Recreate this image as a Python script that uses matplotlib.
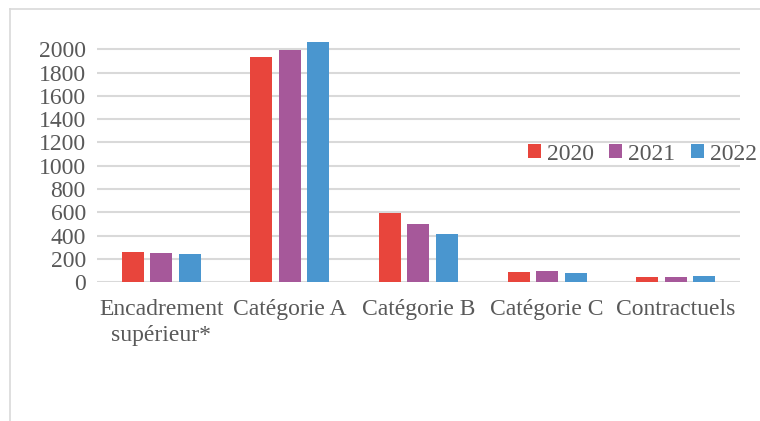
import numpy as np
import matplotlib.pyplot as plt
from matplotlib.lines import Line2D

categories = ["Encadrement\nsupérieur*", "Catégorie A", "Catégorie B", "Catégorie C", "Contractuels"]
years = ["2020", "2021", "2022"]
v2020 = [257, 1931, 595, 88, 43]
v2021 = [251, 1991, 500, 94, 48]
v2022 = [245, 2060, 414, 80, 54]
yticks = [0, 200, 400, 600, 800, 1000, 1200, 1400, 1600, 1800, 2000]

colors = ["#E8453C", "#A6589A", "#4A96CF"]
grey_txt = "#595959"
grid_col = "#D9D9D9"

plt.rcParams['font.family'] = ['Liberation Serif', 'DejaVu Serif']

fig = plt.figure(figsize=(7.6, 4.21), dpi=100)
ax = fig.add_axes([0.1276, 0.3295, 0.9737 - 0.1276, 0.9107 - 0.3295])

x = np.arange(len(categories))
w = 0.171
step = 0.222
for i, (vals, yr) in enumerate(zip([v2020, v2021, v2022], years)):
    ax.bar(x + (i - 1) * step, vals, width=w, color=colors[i], label=yr, zorder=3)

ax.set_xlim(-0.5, len(categories) - 0.5)
ax.set_ylim(0, 2100)
ax.set_yticks(yticks)
ax.set_xticks(x)
ax.set_xticklabels(categories, linespacing=1.3)
ax.tick_params(axis="both", length=0, labelsize=17, labelcolor=grey_txt)
ax.tick_params(axis="x", pad=12)
ax.tick_params(axis="y", pad=8)
ax.yaxis.grid(True, color=grid_col, linewidth=1.5, zorder=0)
for s in ax.spines.values():
    s.set_visible(False)

fig.legend(loc="center left", bbox_to_anchor=(0.695, 0.634), ncol=3, frameon=False,
           fontsize=17, labelcolor=grey_txt, handlelength=0.55, handleheight=0.55,
           handletextpad=0.25, columnspacing=0.65, borderaxespad=0, borderpad=0)

# light frame around chart area
fig.add_artist(Line2D([10 / 760, 1], [1 - 9 / 421, 1 - 9 / 421], color=grid_col, linewidth=1.2))
fig.add_artist(Line2D([10 / 760, 10 / 760], [0, 1 - 9 / 421], color=grid_col, linewidth=1.2))

fig.savefig("out.png", dpi=100)
